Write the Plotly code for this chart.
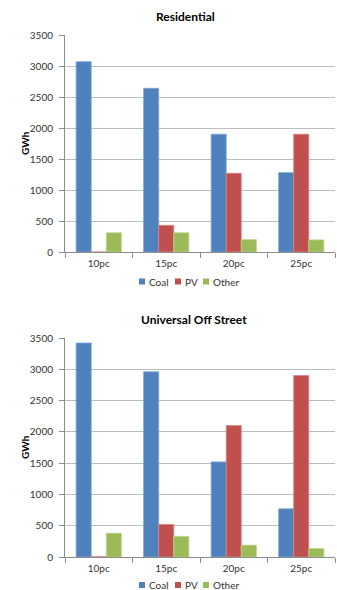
import plotly.graph_objects as go

# Scenario categories on the x axis
categories = ["10pc", "15pc", "20pc", "25pc"]

# Residential scenario, GWh
res_coal = [3070, 2640, 1900, 1280]
res_pv = [0, 430, 1270, 1900]
res_other = [310, 310, 200, 195]

# Universal Off Street scenario, GWh
uos_coal = [3420, 2960, 1520, 770]
uos_pv = [5, 520, 2100, 2900]
uos_other = [380, 330, 190, 135]

y_ticks = [0, 500, 1000, 1500, 2000, 2500, 3000, 3500]

series_names = ["Coal", "PV", "Other"]
colors = ["#4F81BD", "#C0504D", "#9BBB59"]
edges = ["#7FA3D3", "#D98582", "#BCD48B"]

FONT = "Lato"
TXT = "#333333"
W, H = 337, 590


def px_x(p):
    return p / W


def px_y(p):
    return (H - p) / H


fig = go.Figure()

panels = [
    ("x", "y", [res_coal, res_pv, res_other]),
    ("x2", "y2", [uos_coal, uos_pv, uos_other]),
]
for xa, ya, data in panels:
    for name, vals, c, e in zip(series_names, data, colors, edges):
        fig.add_trace(go.Bar(
            x=categories, y=vals, name=name, xaxis=xa, yaxis=ya,
            showlegend=False,
            marker=dict(color=c, line=dict(color=e, width=0.8)),
        ))

# plot areas (pixel rows/columns converted to paper fractions)
x_dom = [px_x(65), px_x(335)]
top_dom = [px_y(252), px_y(35)]
bot_dom = [px_y(557), px_y(338)]

xaxis_style = dict(
    showgrid=False, showline=True, linecolor="#8C8C8C", linewidth=1,
    ticks="outside", tickson="boundaries", ticklen=5, tickcolor="#8C8C8C",
    tickfont=dict(family=FONT, size=10, color=TXT), domain=x_dom,
    ticklabelstandoff=2,
)
yaxis_style = dict(
    range=[0, 3500], tickvals=y_ticks, showgrid=True, gridcolor="#BDBDBD",
    gridwidth=1, showline=True, linecolor="#8C8C8C", linewidth=1,
    ticks="outside", ticklen=5, tickcolor="#8C8C8C", zeroline=False,
    tickfont=dict(family=FONT, size=10, color=TXT), ticklabelstandoff=4,
)

annotations = []
shapes = []

# chart titles and y-axis titles
for text, cx, cy, plot_mid in [
    ("Residential", 185.5, 17, 143),
    ("Universal Off Street", 193.5, 319, 447),
]:
    annotations.append(dict(
        text=f"<b>{text}</b>", x=px_x(cx), y=px_y(cy), xref="paper",
        yref="paper", xanchor="center", yanchor="middle", showarrow=False,
        font=dict(family=FONT, size=12, color="#000")))
    annotations.append(dict(
        text="<b>GWh</b>", x=px_x(25), y=px_y(plot_mid), xref="paper",
        yref="paper", xanchor="center", yanchor="middle", showarrow=False,
        textangle=-90, font=dict(family=FONT, size=10, color="#000")))

# legends below each chart: colour key followed by series name
key_x = [139, 175, 203]
for ly in (281.5, 585):
    for name, c, kx in zip(series_names, colors, key_x):
        shapes.append(dict(
            type="rect", xref="paper", yref="paper",
            x0=px_x(kx), x1=px_x(kx + 6), y0=px_y(ly + 3), y1=px_y(ly - 3),
            fillcolor=c, line=dict(width=0)))
        annotations.append(dict(
            text=name, x=px_x(kx + 8), y=px_y(ly), xref="paper", yref="paper",
            xanchor="left", yanchor="middle", showarrow=False,
            font=dict(family=FONT, size=10, color=TXT)))

fig.update_layout(
    width=W, height=H, margin=dict(l=0, r=0, t=0, b=0, autoexpand=False),
    paper_bgcolor="white", plot_bgcolor="white",
    barmode="group", bargap=0.33, bargroupgap=0,
    xaxis=dict(**xaxis_style, anchor="y"),
    yaxis=dict(**yaxis_style, domain=top_dom, anchor="x"),
    xaxis2=dict(**xaxis_style, anchor="y2"),
    yaxis2=dict(**yaxis_style, domain=bot_dom, anchor="x2"),
    annotations=annotations,
    shapes=shapes,
)

fig.write_html("out.html")
